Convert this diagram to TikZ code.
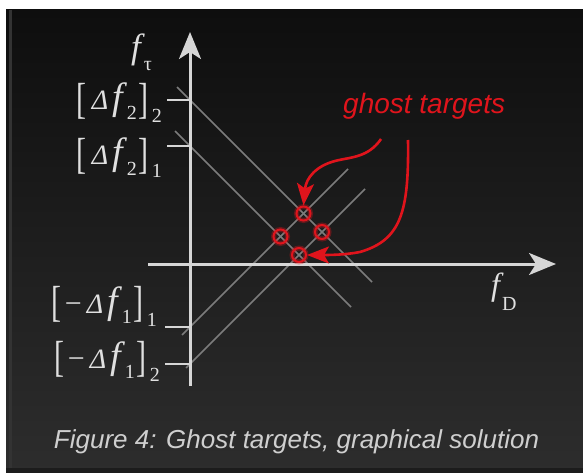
\documentclass[tikz,border=0pt]{standalone}
\usepackage{fontspec}
\newfontfamily\capfont{Liberation Sans}
\newfontfamily\labfont{Liberation Serif}
\usetikzlibrary{arrows.meta}
\definecolor{bgtop}{HTML}{0E0E0E}
\definecolor{bgbot}{HTML}{2D2D2D}
\definecolor{axisgray}{HTML}{D6D6D6}
\definecolor{linegray}{HTML}{7C7C7C}
\definecolor{ghostred}{HTML}{E0141C}
\definecolor{labelgray}{HTML}{E0E0E0}
\definecolor{capgray}{HTML}{CFCFCF}
\definecolor{edgegray}{HTML}{333333}
\definecolor{bottomstrip}{HTML}{1C1C1C}
% label pieces
\newcommand{\lbr}{\raisebox{-0.11em}{\scalebox{1}[1.45]{[}}}
\newcommand{\rbr}{\raisebox{-0.11em}{\scalebox{1}[1.45]{]}}}
\newcommand{\subs}[2][11pt]{\raisebox{-#1}{\fontsize{20}{22}\selectfont #2}}
\newcommand{\dlt}{{\fontsize{28}{30}\selectfont\itshape Δ}}
\newcommand{\eff}[1][38]{{\fontsize{#1}{40}\selectfont\itshape f}}
\begin{document}
\begin{tikzpicture}[x=1pt,y=-1pt,
  axis/.style={draw=axisgray,line width=3pt,-{Stealth[length=27pt,width=22pt,inset=7pt]}},
  tickmark/.style={draw=axisgray,line width=2pt},
  diag/.style={draw=linegray,line width=1.6pt},
  ghost/.style={circle,draw=ghostred,line width=2pt,minimum size=14pt,inner sep=0pt},
  glow/.style={circle,draw=ghostred,draw opacity=0.35,line width=5pt,minimum size=14pt,inner sep=0pt},
  pointer/.style={draw=ghostred,line width=2.6pt,-{Stealth[length=22pt,width=17pt,inset=5pt]}},
  lab/.style={text=labelgray,inner sep=0pt,font=\labfont\fontsize{30}{34}\selectfont},
]
\useasboundingbox (0,0) rectangle (583,473);
% background
\fill[white] (0,0) rectangle (583,473);
\shade[top color=bgtop,bottom color=bgbot] (6,10) rectangle (583,473);
\draw[edgegray,line width=3pt] (10,10) -- (10,468);
\fill[bottomstrip] (6,468) rectangle (583,473);

% diagonal lines
\coordinate (d1s) at (177,87);  \coordinate (d1e) at (372,282);
\coordinate (d2s) at (175,131); \coordinate (d2e) at (351,307);
\coordinate (d3s) at (182,335); \coordinate (d3e) at (348,169);
\coordinate (d4s) at (186,368); \coordinate (d4e) at (365,189);
\draw[diag] (d1s) -- (d1e);
\draw[diag] (d2s) -- (d2e);
\draw[diag] (d3s) -- (d3e);
\draw[diag] (d4s) -- (d4e);

% axes
\coordinate (ys) at (190,386);
\coordinate (ye) at (190,32);
\coordinate (xs) at (148,264);
\coordinate (xe) at (556,264);
\draw[axis] (ys) -- (ye);
\draw[axis] (xs) -- (xe);

% ticks
\coordinate (t1) at (190,100); \coordinate (t1l) at (167,100);
\coordinate (t2) at (190,146); \coordinate (t2l) at (167,146);
\coordinate (t3) at (190,327); \coordinate (t3l) at (165,327);
\coordinate (t4) at (190,364); \coordinate (t4l) at (165,364);
\draw[tickmark] (t1l) -- (t1);
\draw[tickmark] (t2l) -- (t2);
\draw[tickmark] (t3l) -- (t3);
\draw[tickmark] (t4l) -- (t4);

% labels
\node[lab,anchor=base east] (l1) at (162,110)
  {\lbr\kern5pt\dlt\kern4pt\eff\kern4pt\subs[10pt]{2}\kern2pt\rbr\kern3pt\subs[13pt]{2}};
\node[lab,anchor=base east] (l2) at (162,165)
  {\lbr\kern5pt\dlt\kern4pt\eff\kern4pt\subs[10pt]{2}\kern2pt\rbr\kern3pt\subs[13pt]{1}};
\node[lab,anchor=base east] (l3) at (157,313)
  {\lbr\kern3pt−\kern5pt\dlt\kern4pt\eff\kern4pt\subs[10pt]{1}\kern2pt\rbr\kern3pt\subs[13pt]{1}};
\node[lab,anchor=base east] (l4) at (160,368)
  {\lbr\kern3pt−\kern5pt\dlt\kern4pt\eff\kern4pt\subs[10pt]{1}\kern2pt\rbr\kern3pt\subs[13pt]{2}};
\node[lab,anchor=base west] (ft) at (131,59) {\eff[35]\kern3pt\subs[12pt]{τ}};
\node[lab,anchor=base west] (fd) at (491,295) {\eff[32]\kern2pt\subs[15pt]{D}};

% ghost circles
\foreach \p in {(303.5,213.5),(280.5,236.5),(322,232),(299,255)}{
  \node[glow] at \p {};
}
\node[ghost] (g1) at (303.5,213.5) {};
\node[ghost] (g2) at (280.5,236.5) {};
\node[ghost] (g3) at (322,232) {};
\node[ghost] (g4) at (299,255) {};

% red pointers
\coordinate (a1) at (381,139);
\coordinate (a2) at (408,140);
\draw[pointer] (a1) .. controls (368,158) and (350,157) .. (335,161)
   .. controls (316,166) and (306,178) .. (g1.north);
\draw[pointer] (a2) .. controls (409,212) and (401,240) .. (360,252)
   .. controls (345,255) and (328,255) .. (g4.east);

% texts
\node[anchor=base west,text=ghostred,inner sep=0pt,font=\capfont\itshape\fontsize{28}{32}\selectfont] (gt) at (343,114) {ghost targets};
\node[anchor=base,text=capgray,inner sep=0pt,font=\capfont\itshape\fontsize{26}{30}\selectfont] (cap) at (296.5,448) {Figure 4: Ghost targets, graphical solution};
\end{tikzpicture}
\end{document}
